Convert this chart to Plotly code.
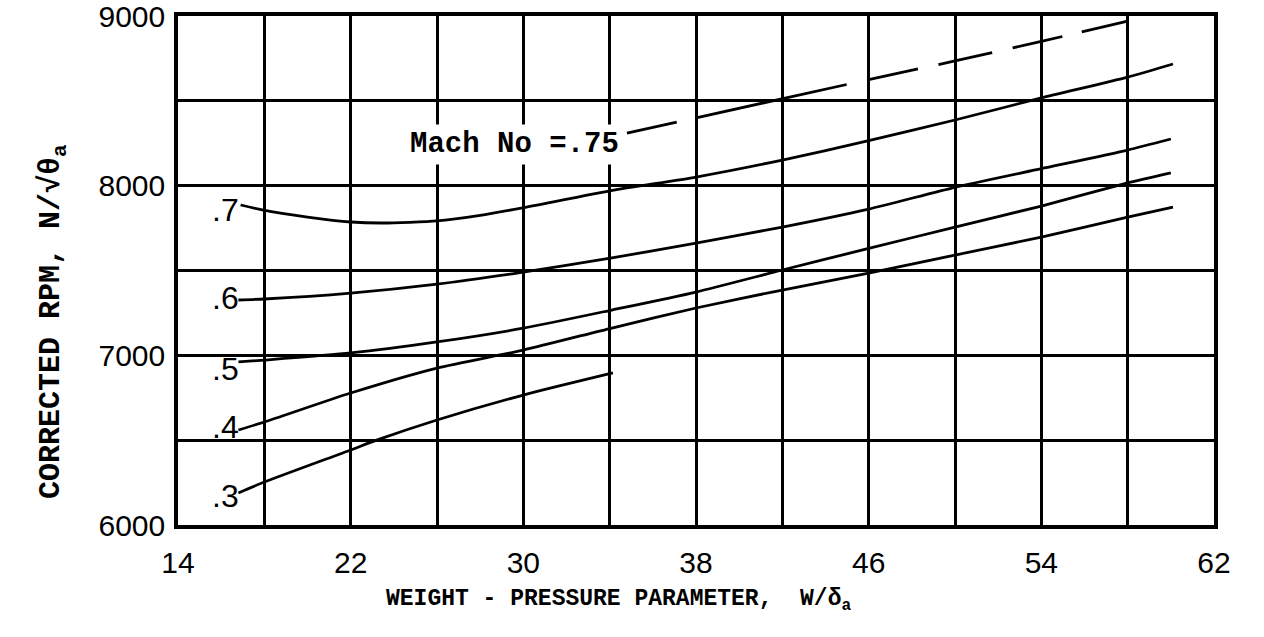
import plotly.graph_objects as go

# ---- axis ticks ----
x_tickvals = [14, 18, 22, 26, 30, 34, 38, 42, 46, 50, 54, 58, 62]
x_ticktext = ["14", "", "22", "", "30", "", "38", "", "46", "", "54", "", "62"]
y_tickvals = [6000, 6500, 7000, 7500, 8000, 8500, 9000]
y_ticktext = ["6000", "", "7000", "", "8000", "", "9000"]

# ---- curves ----
m03_x = [16.8, 18.0, 22.0, 23.2, 26.0, 30.0, 34.15]
m03_y = [6189, 6253, 6442, 6500, 6619, 6766, 6896]

m04_x = [16.8, 18.0, 22.0, 26.0, 30.0, 34.1, 38.0, 42.0, 46.0, 50.0, 54.0, 58.0, 60.1]
m04_y = [6560, 6607, 6778, 6925, 7031, 7161, 7279, 7385, 7485, 7591, 7697, 7815, 7874]

m05_x = [16.8, 18.0, 22.0, 26.0, 30.0, 34.1, 38.0, 42.0, 46.0, 50.0, 54.0, 58.0, 60.0]
m05_y = [6961, 6972, 7014, 7079, 7160, 7267, 7373, 7503, 7630, 7756, 7880, 8016, 8075]

m06_x = [16.8, 18.0, 22.0, 26.0, 29.7, 34.1, 38.0, 42.0, 46.0, 50.0, 54.0, 58.0, 60.0]
m06_y = [7326, 7332, 7367, 7420, 7485, 7574, 7662, 7756, 7862, 7990, 8100, 8210, 8275]

m07_x = [16.9, 17.9, 20.0, 22.0, 23.5, 26.0, 28.0, 29.9, 34.2, 38.0, 42.0, 46.0, 50.0, 54.0, 58.0, 60.1]
m07_y = [7886, 7857, 7815, 7786, 7780, 7792, 7825, 7868, 7974, 8051, 8151, 8265, 8387, 8517, 8640, 8717]

m075_x = [34.8, 38.0, 42.0, 46.0, 50.0, 54.0, 58.0]
m075_y = [8310, 8400, 8515, 8625, 8735, 8850, 8970]

curve_labels = [".3", ".4", ".5", ".6", ".7"]
curve_label_y = [6171, 6578, 6919, 7338, 7857]
mach_label = "Mach No =.75"

x_title = "WEIGHT - PRESSURE PARAMETER,  W/δ<sub>a</sub>"
y_title = "CORRECTED RPM, N/√θ<sub>a</sub>"

fig = go.Figure()
for xs, ys in [(m03_x, m03_y), (m04_x, m04_y), (m05_x, m05_y), (m06_x, m06_y), (m07_x, m07_y)]:
    fig.add_trace(go.Scatter(x=xs, y=ys, mode="lines",
                             line=dict(color="black", width=2.8, shape="spline", smoothing=0.6),
                             showlegend=False, hoverinfo="skip"))
fig.add_trace(go.Scatter(x=m075_x, y=m075_y, mode="lines",
                         line=dict(color="black", width=2.8, shape="linear",
                                   dash="51px,21px,153px,21px,52px,21px,55px,21px,51px,20px,46px,20px"),
                         showlegend=False, hoverinfo="skip"))

annotations = []
for lab, ly in zip(curve_labels, curve_label_y):
    annotations.append(dict(x=16.9, y=ly, xref="x", yref="y", text=lab, showarrow=False,
                            xanchor="right", yanchor="middle",
                            font=dict(family="Liberation Sans", size=32, color="black")))
annotations.append(dict(x=29.6, y=8240, xref="x", yref="y", text=mach_label, showarrow=False,
                        xanchor="center", yanchor="middle", bgcolor="white", borderpad=3,
                        font=dict(family="Liberation Mono", size=29, color="black", weight="bold")))
annotations.append(dict(x=0.425, y=-0.148, xref="paper", yref="paper", text=x_title, showarrow=False,
                        xanchor="center", yanchor="middle",
                        font=dict(family="Liberation Mono", size=23, color="black", weight="bold")))
annotations.append(dict(x=-0.121, y=0.40, xref="paper", yref="paper", text=y_title, showarrow=False,
                        xanchor="center", yanchor="middle", textangle=-90,
                        font=dict(family="Liberation Mono", size=30, color="black", weight="bold")))

fig.update_layout(
    width=1264, height=637,
    margin=dict(l=178, r=50, t=16, b=112),
    paper_bgcolor="white", plot_bgcolor="white",
    annotations=annotations,
    showlegend=False,
)
fig.update_xaxes(range=[14, 62], tickmode="array", tickvals=x_tickvals, ticktext=x_ticktext,
                 showgrid=True, gridcolor="black", gridwidth=2.5, zeroline=False,
                 showline=True, mirror=True, linecolor="black", linewidth=3.5,
                 ticks="", ticklabelstandoff=8, ticklabeloverflow="allow", automargin=False,
                 tickfont=dict(family="Liberation Sans", size=30, color="black"))
fig.update_yaxes(range=[6000, 9000], tickmode="array", tickvals=y_tickvals, ticktext=y_ticktext,
                 showgrid=True, gridcolor="black", gridwidth=2.8, zeroline=False,
                 showline=True, mirror=True, linecolor="black", linewidth=3.5,
                 ticks="", ticklabelstandoff=3, ticklabeloverflow="allow", automargin=False,
                 tickfont=dict(family="Liberation Sans", size=30, color="black"))

fig.write_html("out.html")
